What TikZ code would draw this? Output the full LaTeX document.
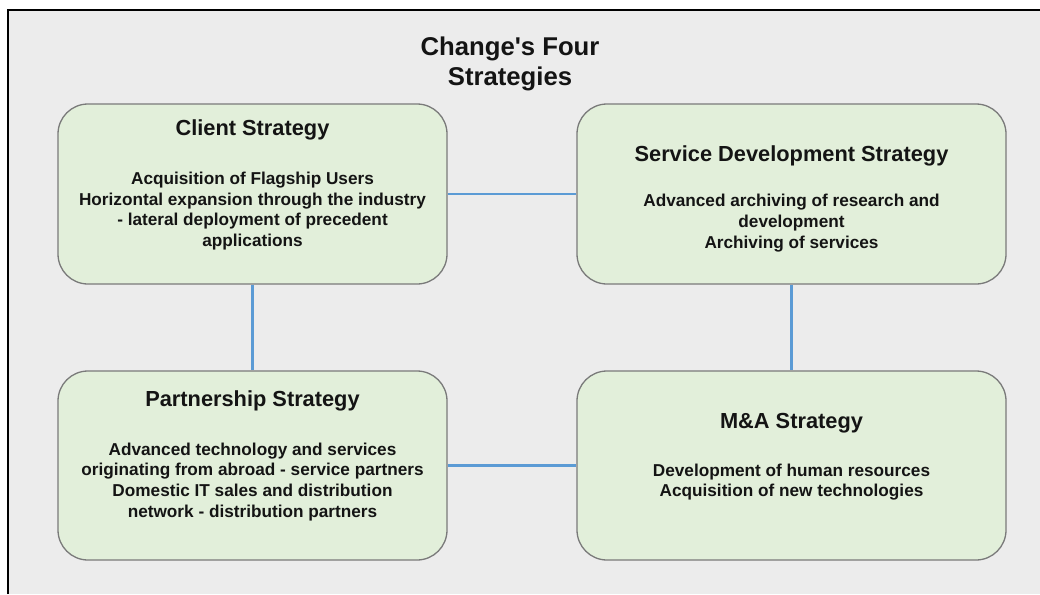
\documentclass[tikz,border=0pt]{standalone}
\usepackage{fontspec}
\setmainfont{Liberation Sans}[Ligatures=TeXOff]
\definecolor{bggray}{HTML}{ECECEC}
\definecolor{boxfill}{HTML}{E2EFDA}
\definecolor{boxline}{HTML}{7A7A7A}
\definecolor{connblue}{HTML}{5B9BD5}
\definecolor{txt}{HTML}{141414}
\begin{document}
\begin{tikzpicture}[x=1pt,y=-1pt,
  box/.style={draw=boxline, line width=1.3pt, fill=boxfill, rounded corners=30pt, inner sep=0pt},
  conn/.style={draw=connblue, line width=2.8pt},
  btitle/.style={font=\fontsize{21.8}{26}\selectfont\bfseries, text=txt, inner sep=0pt, anchor=base},
  body/.style={font=\fontsize{17.2}{20.7}\selectfont\bfseries, text=txt, align=center, inner sep=0pt},
  maintitle/.style={font=\fontsize{25.7}{30}\selectfont\bfseries, text=txt, align=center, inner sep=0pt}]
\useasboundingbox (0,0) rectangle (1040,594);
\fill[white] (0,0) rectangle (1040,594);
\fill[bggray] (8,10) rectangle (1040,594);
\draw[black, line width=2pt] (8,594) -- (8,10) -- (1040,10);

\node[maintitle] (title) at (510,64) {Change's Four\\Strategies};

\node[box, minimum width=389pt, minimum height=180pt] (client) at (252.5,194) {};
\node[box, minimum width=429pt, minimum height=180pt] (service) at (791.5,194) {};
\node[box, minimum width=389pt, minimum height=189pt] (partner) at (252.5,465.5) {};
\node[box, minimum width=429pt, minimum height=189pt] (ma) at (791.5,465.5) {};

\draw[conn] (client) -- (service);
\draw[conn] (client) -- (partner);
\draw[conn] (service) -- (ma);
\draw[conn] (partner) -- (ma);

\node[btitle] (clientT) at (252.5,135) {Client Strategy};
\node[body] (clientB) at (252.5,211) {Acquisition of Flagship Users\\Horizontal expansion through the industry\\- lateral deployment of precedent\\applications};

\node[btitle] (serviceT) at (791.5,161) {Service Development Strategy};
\node[body] (serviceB) at (791.5,223) {Advanced archiving of research and\\development\\Archiving of services};

\node[btitle] (partnerT) at (252.5,406.7) {Partnership Strategy};
\node[body] (partnerB) at (252.5,481.7) {Advanced technology and services\\originating from abroad - service partners\\Domestic IT sales and distribution\\network - distribution partners};

\node[btitle] (maT) at (791.5,428) {M\&A Strategy};
\node[body] (maB) at (791.5,482) {Development of human resources\\Acquisition of new technologies};
\end{tikzpicture}
\end{document}
